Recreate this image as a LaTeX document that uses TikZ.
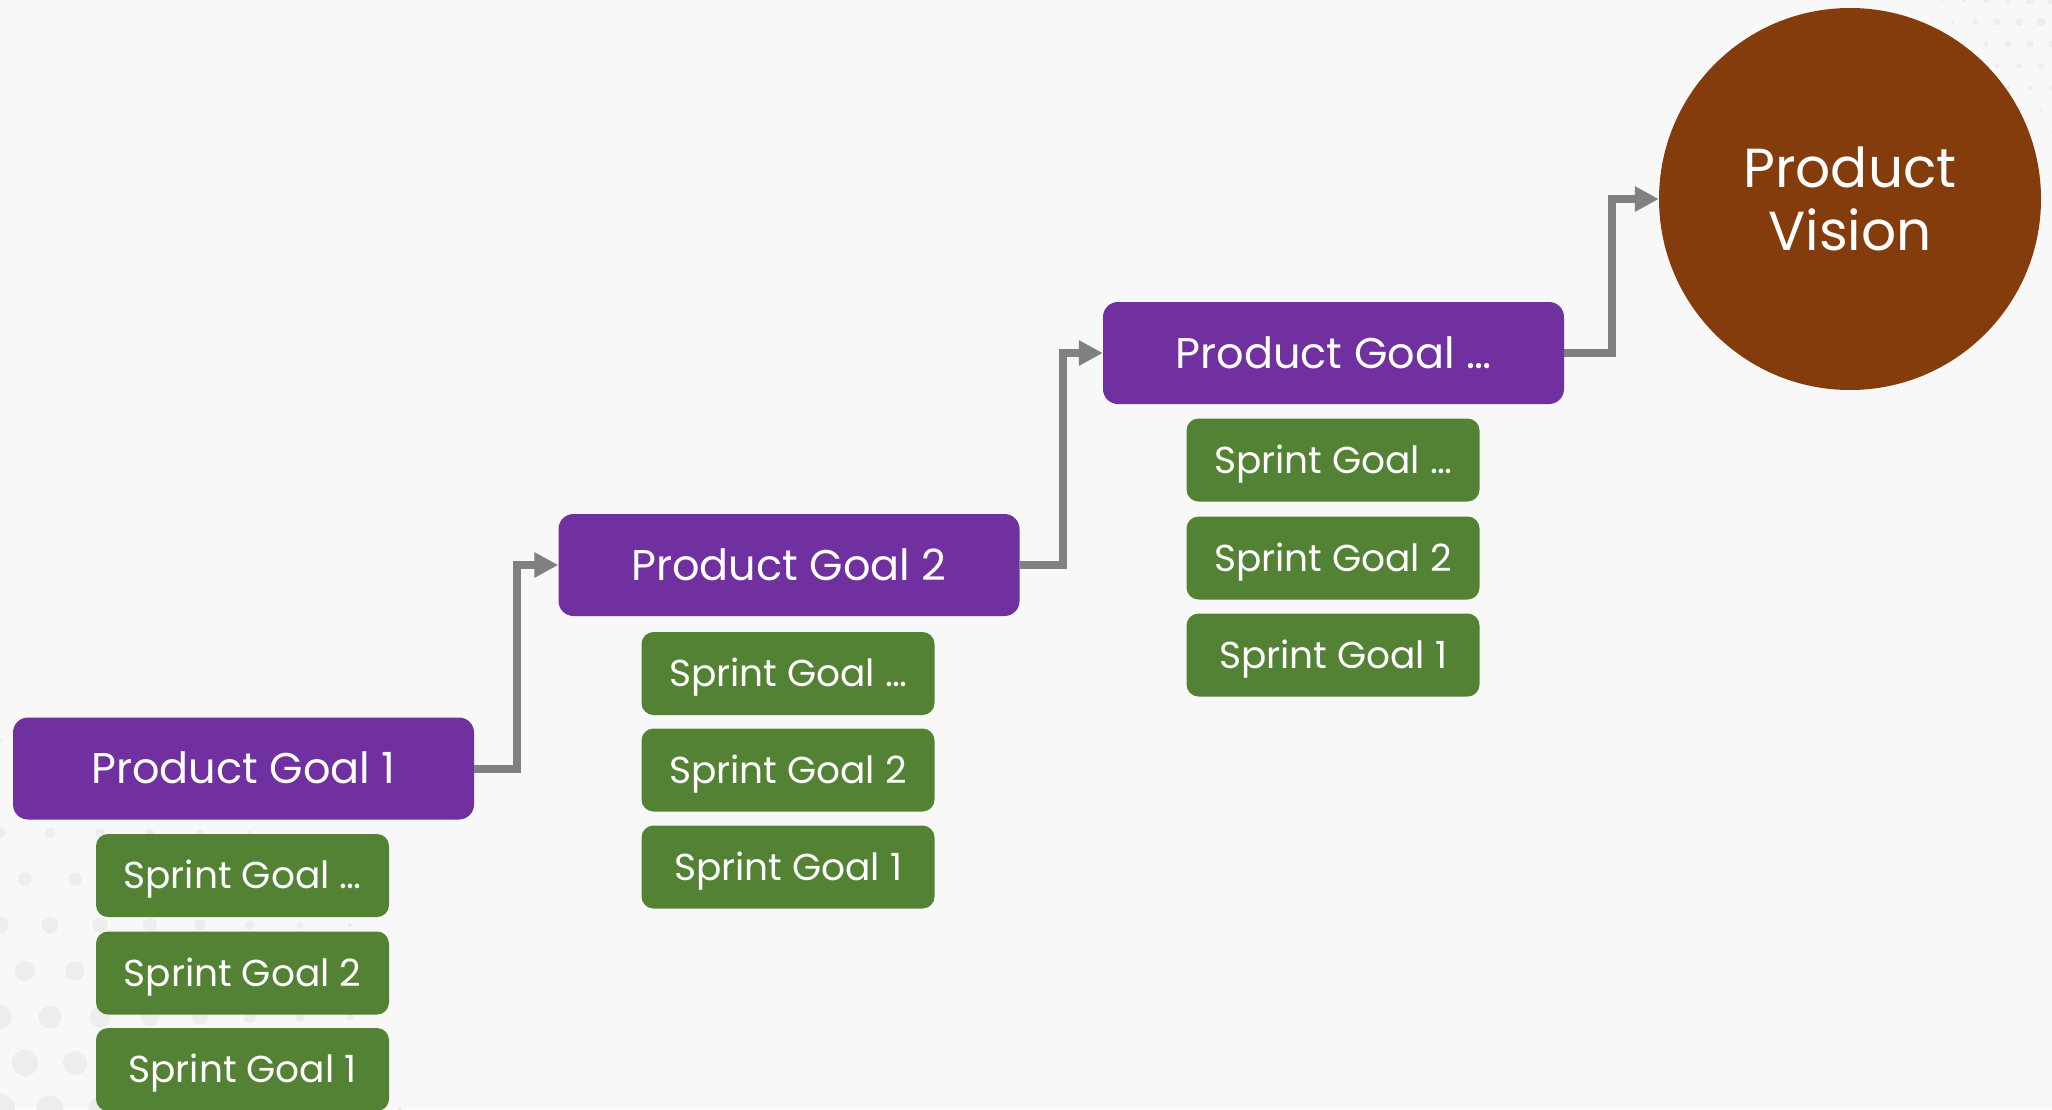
\documentclass[tikz,border=0pt]{standalone}
\usepackage{fontspec}
\setmainfont{Poppins}
\usetikzlibrary{arrows.meta}
\definecolor{pgpurple}{HTML}{7030A0}
\definecolor{sggreen}{HTML}{548235}
\definecolor{pvbrown}{HTML}{843C0C}
\definecolor{conngray}{HTML}{808080}
\definecolor{bggray}{HTML}{F8F8F8}
\definecolor{dotgray}{HTML}{EDEDED}
\tikzset{
  pgoal/.style={fill=pgpurple, rounded corners=15pt, minimum width=461pt, minimum height=102pt, inner sep=0pt, text=white, text height=30pt, text depth=0pt, font=\fontsize{43}{50}\selectfont},
  sgoal/.style={fill=sggreen, rounded corners=12pt, minimum width=293pt, minimum height=83pt, inner sep=0pt, text=white, text height=26pt, text depth=0pt, font=\fontsize{37.5}{44}\selectfont},
  vision/.style={circle, fill=pvbrown, minimum size=382pt, inner sep=0pt, text=white, align=center, font=\fontsize{55}{63}\selectfont},
  conn/.style={draw=conngray, line width=8pt, -{Triangle[length=24pt,width=24pt]}},
  bgdot/.style={fill=dotgray}
}
\begin{document}
\begin{tikzpicture}[x=1pt,y=-1pt]
\fill[bggray] (0,0) rectangle (2052,1109);
\useasboundingbox (0,0) rectangle (2052,1109);
% faint background dots, bottom left
\foreach \i in {0,...,10} {
  \foreach \j in {0,...,10} {
    \pgfmathsetmacro\cx{\i*50 + mod(\j,2)*25}
    \pgfmathsetmacro\cy{1109 - \j*46}
    \pgfmathsetmacro\rr{15*(1 - veclen(\cx,(1109-\cy)*1.1)/470)}
    \ifdim\rr pt>2pt \fill[bgdot] (\cx,\cy) circle (\rr); \fi
  }
}
% faint background dots, top right
\foreach \i in {0,...,7} {
  \foreach \j in {0,...,6} {
    \pgfmathsetmacro\cx{2052 - \i*22 - mod(\j,2)*11}
    \pgfmathsetmacro\cy{\j*22}
    \pgfmathsetmacro\rr{5*(1 - veclen(2052-\cx,\cy)/170)}
    \ifdim\rr pt>1pt \fill[bgdot] (\cx,\cy) circle (\rr); \fi
  }
}
% Product goals
\node[pgoal] (pg1) at (243.5,768.5) {Product Goal 1};
\node[pgoal] (pg2) at (789,565) {Product Goal 2};
\node[pgoal] (pg3) at (1333.5,353) {Product Goal \dots};
% Sprint goals
\node[sgoal] (s1a) at (242.5,875.5) {Sprint Goal \dots};
\node[sgoal] (s1b) at (242.5,973) {Sprint Goal 2};
\node[sgoal] (s1c) at (242.5,1069.5) {Sprint Goal 1};
\node[sgoal] (s2a) at (788,673.5) {Sprint Goal \dots};
\node[sgoal] (s2b) at (788,770) {Sprint Goal 2};
\node[sgoal] (s2c) at (788,867) {Sprint Goal 1};
\node[sgoal] (s3a) at (1333,460) {Sprint Goal \dots};
\node[sgoal] (s3b) at (1333,558) {Sprint Goal 2};
\node[sgoal] (s3c) at (1333,655) {Sprint Goal 1};
% Vision
\node[vision] (pv) at (1850,199) {Product\\Vision};
% Connectors
\draw[conn] (pg1.east) -- (517,768.5) |- (pg2.west);
\draw[conn] (pg2.east) -- (1062.5,565) |- (pg3.west);
\draw[conn] (pg3.east) -- (1612,353) |- (pv.west);
\end{tikzpicture}
\end{document}
